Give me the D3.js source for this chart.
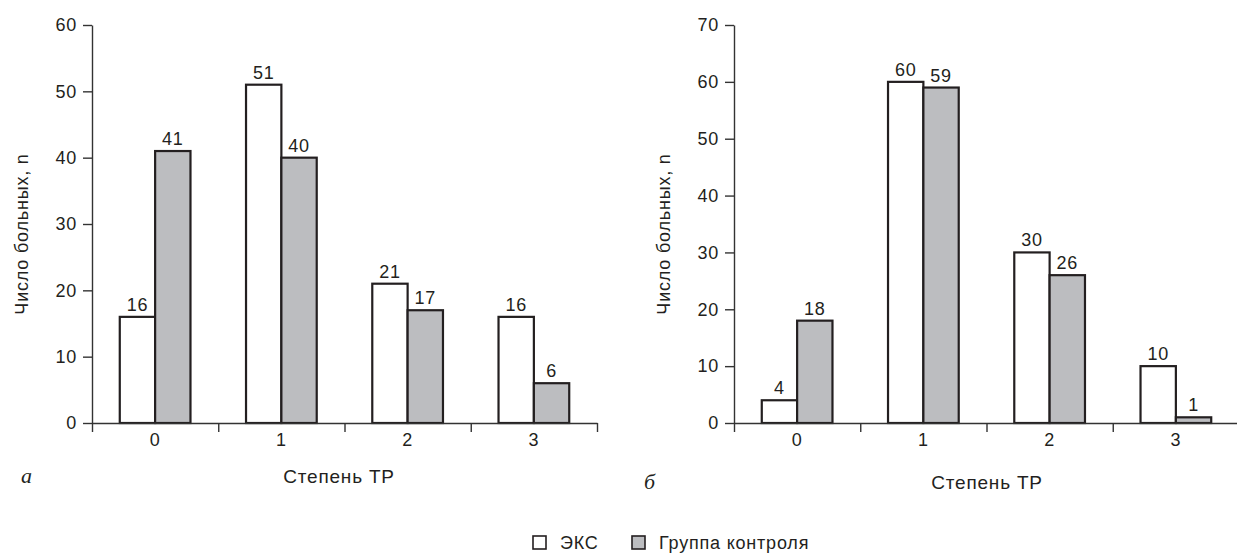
<!DOCTYPE html>
<html>
<head>
<meta charset="utf-8">
<script src="https://cdn.jsdelivr.net/npm/d3@7"></script>
<style>
  body { margin: 0; background: #fff; }
  svg text { font-family: "Liberation Sans", Arial, sans-serif; fill: #231f20; letter-spacing: 0.8px; }
</style>
</head>
<body>
<div id="chart"></div>
<script>
const categories = ["0", "1", "2", "3"];
const seriesNames = ["ЭКС", "Группа контроля"];
const seriesColors = ["#ffffff", "#bcbdc0"];

// panel а
const eksA = [16, 51, 21, 16];
const ctrlA = [41, 40, 17, 6];
const ticksA = [0, 10, 20, 30, 40, 50, 60];

// panel б
const eksB = [4, 60, 30, 10];
const ctrlB = [18, 59, 26, 1];
const ticksB = [0, 10, 20, 30, 40, 50, 60, 70];

const yTitle = "Число больных, n";
const xTitle = "Степень ТР";

const width = 1237, height = 555;
const svg = d3.select("#chart").append("svg")
    .attr("width", width)
    .attr("height", height);

function drawPanel(opts) {
    const { left, right, top, bottom, values, ticks, letter, letterX, titleX, titleY } = opts;

    const x = d3.scaleBand().domain(categories).range([left, right]).padding(0);
    const bw = x.bandwidth();
    const xSub = d3.scaleBand().domain(seriesNames).range([bw * 0.22, bw * 0.78]).padding(0);
    const y = d3.scaleLinear().domain([0, d3.max(ticks)]).range([bottom, top]);

    const g = svg.append("g");

    // bars
    const rows = categories.map((c, i) => ({ cat: c, vals: seriesNames.map((s, j) => ({ s, v: values[j][i], j })) }));
    const groups = g.selectAll("g.cat").data(rows).enter().append("g")
        .attr("transform", d => `translate(${x(d.cat)},0)`);

    groups.selectAll("rect").data(d => d.vals).enter().append("rect")
        .attr("x", d => xSub(d.s))
        .attr("y", d => y(d.v))
        .attr("width", xSub.bandwidth())
        .attr("height", d => y(0) - y(d.v))
        .attr("fill", d => seriesColors[d.j])
        .attr("stroke", "#231f20")
        .attr("stroke-width", 2.2);

    groups.selectAll("text").data(d => d.vals).enter().append("text")
        .attr("x", d => xSub(d.s) + xSub.bandwidth() / 2)
        .attr("y", d => y(d.v) - 6)
        .attr("text-anchor", "middle")
        .style("font-size", "18px")
        .text(d => d.v);

    // y axis
    const yAxis = g.append("g")
        .attr("transform", `translate(${left},0)`)
        .call(d3.axisLeft(y).tickValues(ticks).tickSize(9).tickSizeOuter(0).tickPadding(6));
    yAxis.selectAll("text").style("font-size", "18px").attr("fill", "#231f20");
    yAxis.selectAll("line,path").attr("stroke", "#333").attr("stroke-width", 1.4);

    // x axis: ticks at band boundaries, labels at band centers
    const edges = d3.scaleLinear().domain([0, categories.length]).range([left, right]);
    const xAxis = g.append("g")
        .attr("transform", `translate(0,${bottom})`)
        .call(d3.axisBottom(edges).tickValues(d3.range(categories.length + 1)).tickFormat("").tickSize(9).tickSizeOuter(0));
    xAxis.selectAll("line,path").attr("stroke", "#333").attr("stroke-width", 1.4);

    const xLabels = g.append("g")
        .attr("transform", `translate(0,${bottom})`)
        .call(d3.axisBottom(x).tickSize(0).tickPadding(10));
    xLabels.select(".domain").remove();
    xLabels.selectAll("text").style("font-size", "18px").attr("fill", "#231f20");

    // titles
    g.append("text")
        .attr("transform", `translate(${left - 70},${(top + bottom) / 2 + 10}) rotate(-90)`)
        .attr("text-anchor", "middle")
        .attr("dy", "0.35em")
        .style("font-size", "18px")
        .text(yTitle);

    g.append("text")
        .attr("x", titleX)
        .attr("y", titleY)
        .attr("text-anchor", "middle")
        .style("font-size", "19px")
        .text(xTitle);

    g.append("text")
        .attr("x", letterX)
        .attr("y", titleY)
        .style("font-family", "'Liberation Serif', 'Times New Roman', serif")
        .style("font-style", "italic")
        .style("font-size", "22px")
        .style("letter-spacing", "0px")
        .text(letter);
}

drawPanel({ left: 92, right: 597, top: 25, bottom: 423, values: [eksA, ctrlA], ticks: ticksA, letter: "а", letterX: 21, titleX: 339, titleY: 483 });
drawPanel({ left: 734, right: 1239, top: 25, bottom: 423, values: [eksB, ctrlB], ticks: ticksB, letter: "б", letterX: 644, titleX: 987, titleY: 489 });

// legend
const legend = svg.append("g").attr("transform", "translate(533,536)");
const items = legend.selectAll("g").data(seriesNames).enter().append("g")
    .attr("transform", (d, i) => `translate(${i * 99},0)`);
items.append("rect")
    .attr("width", 13).attr("height", 13)
    .attr("fill", (d, i) => seriesColors[i])
    .attr("stroke", "#231f20").attr("stroke-width", 1.6);
items.append("text")
    .attr("x", 27).attr("y", 13)
    .style("font-size", "18px")
    .text(d => d);
</script>
</body>
</html>
